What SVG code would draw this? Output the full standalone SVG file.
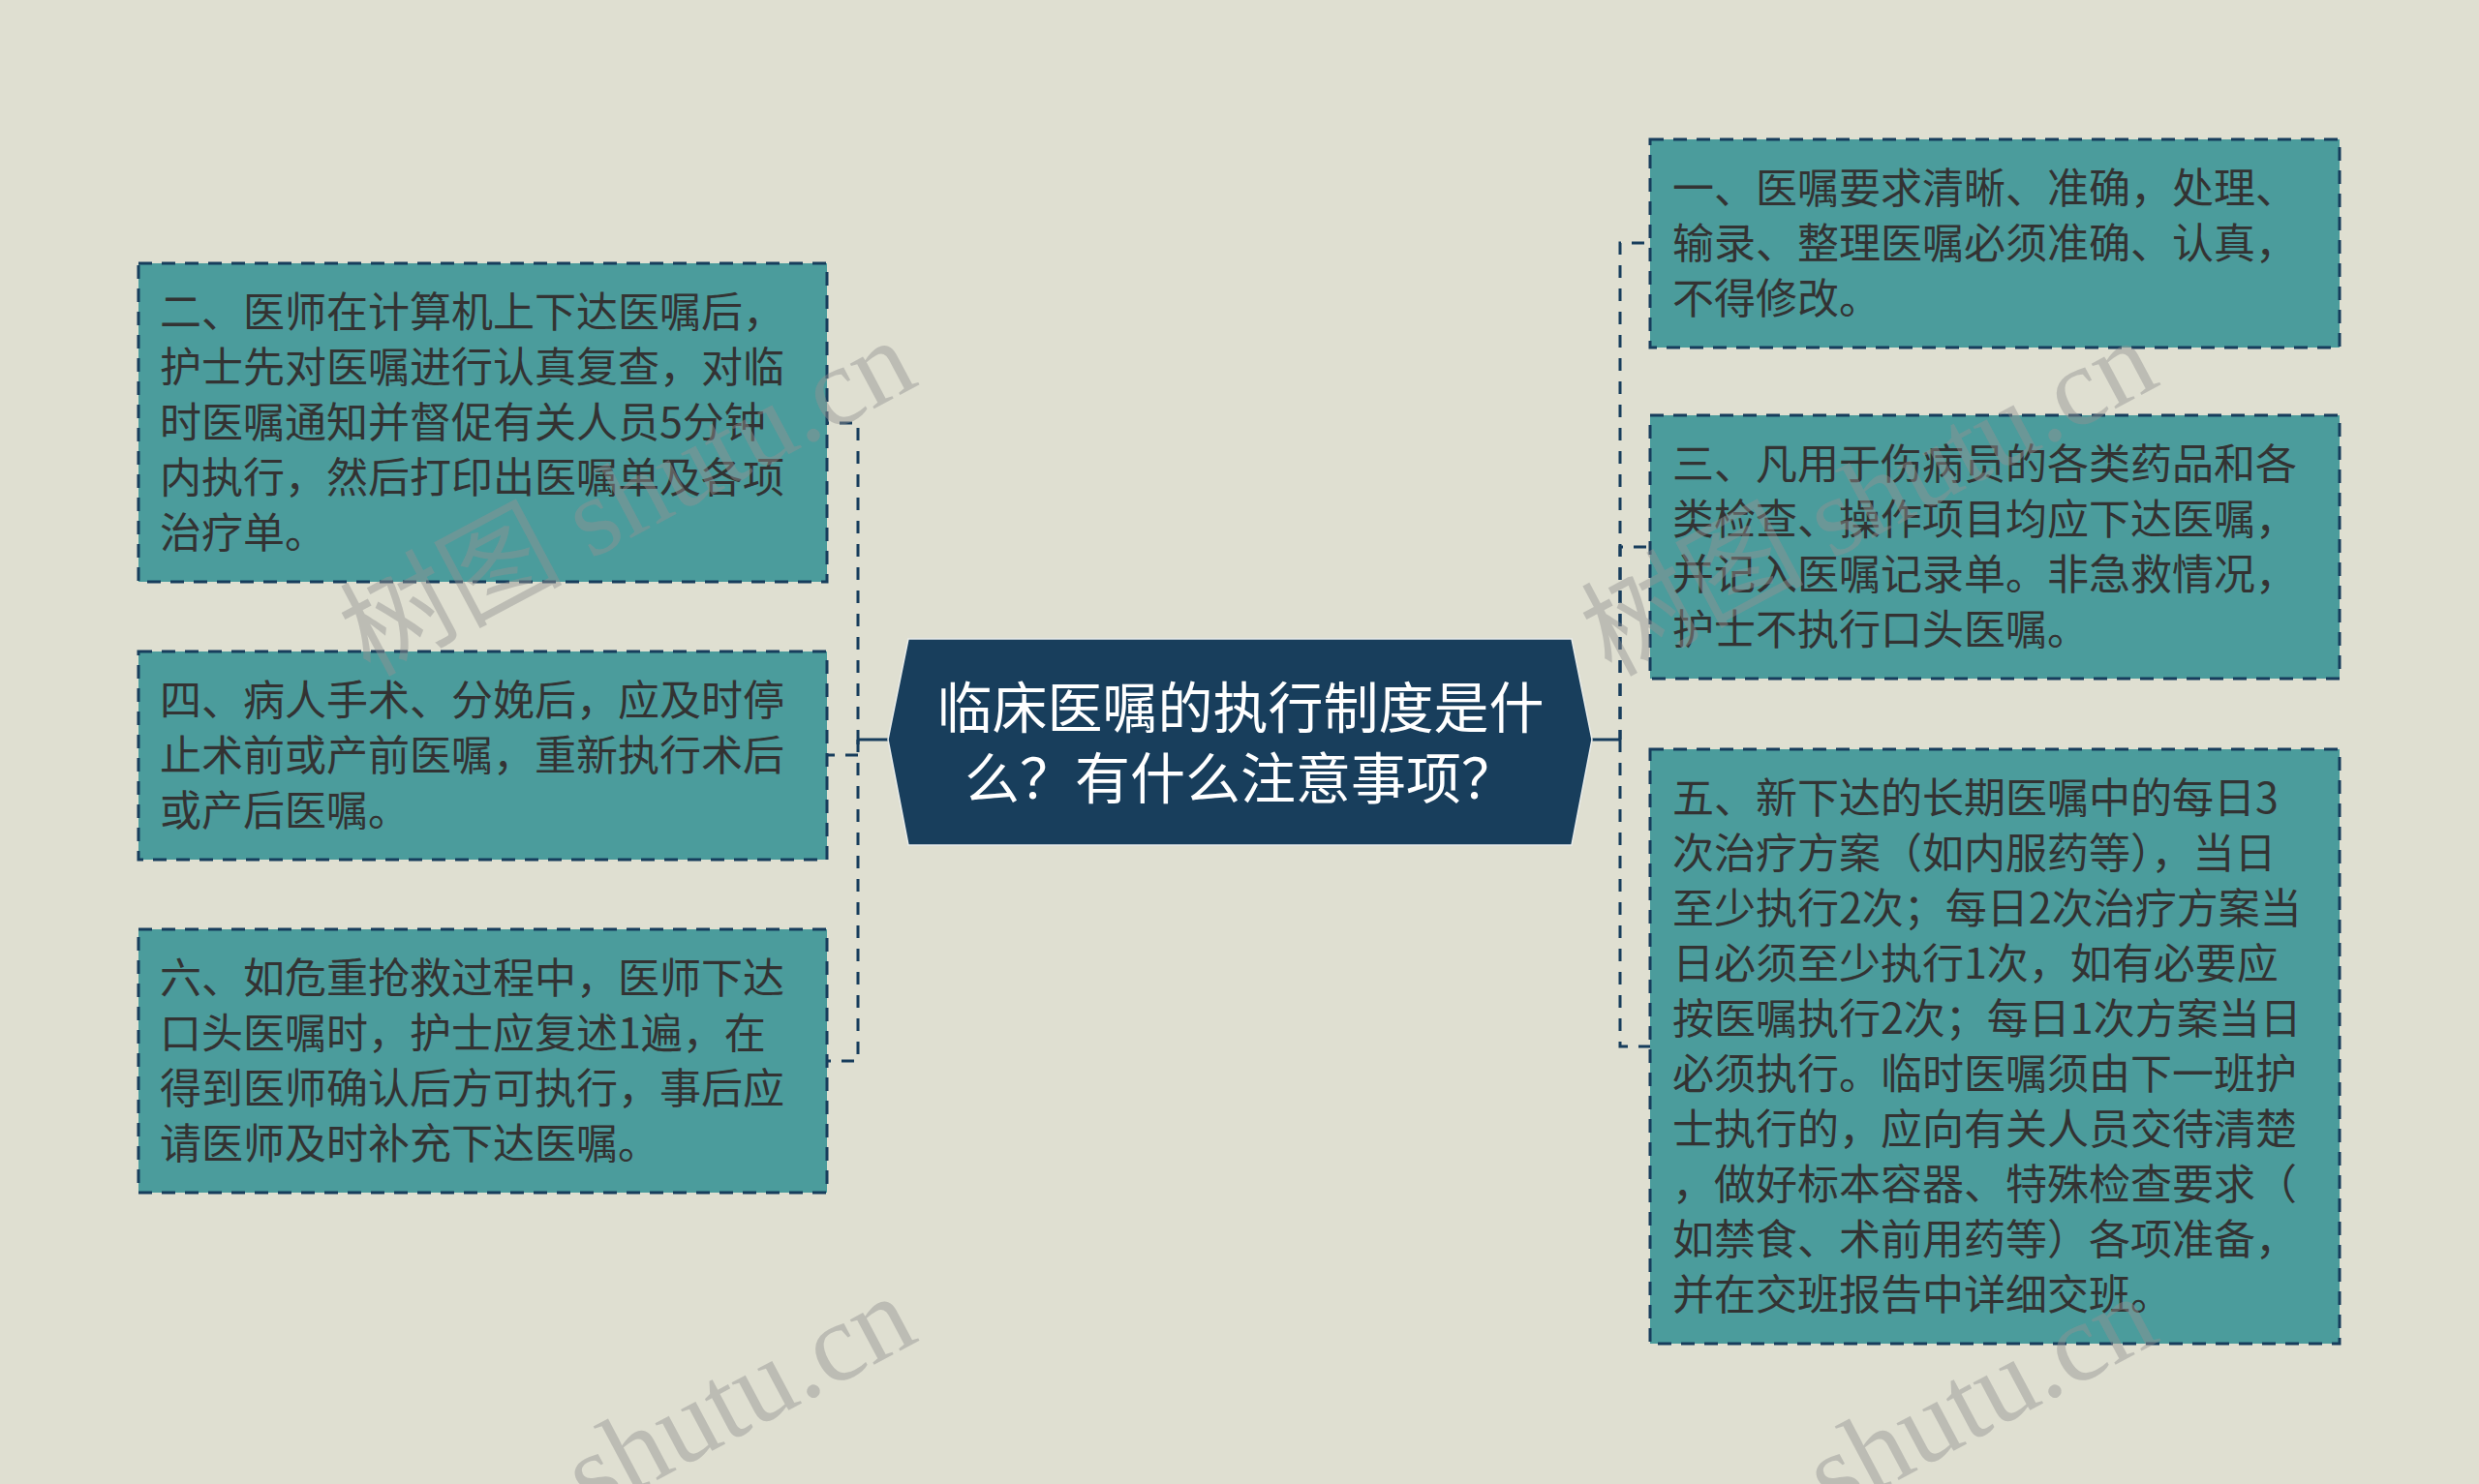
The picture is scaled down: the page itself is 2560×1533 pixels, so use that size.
<svg xmlns="http://www.w3.org/2000/svg" width="2560" height="1533" viewBox="0 0 2560 1533">
<style>
.bg{fill:#dfdfd1}
.box{fill:#4b9c9c;stroke:#173d5c;stroke-width:3;stroke-dasharray:14 10}
.txt{font-family:"Noto Sans CJK SC","Noto Sans",sans-serif;font-size:43px;fill:#333333}
.title{font-family:"Noto Sans CJK SC","Noto Sans",sans-serif;font-size:57px;fill:#ffffff;text-anchor:middle}
.conn{fill:none;stroke:#173d5c;stroke-width:3}
.dash{stroke-dasharray:13 11}
.wm{font-family:"Liberation Serif","Noto Sans CJK SC",serif;font-size:115px;fill:#939393;opacity:0.45;dominant-baseline:central}
</style>
<rect class="bg" x="0" y="0" width="2560" height="1533"/>
<g id="connectors" class="conn">
<path d="M917 764H886"/>
<path class="dash" stroke-dashoffset="3" d="M886 764V437H854"/>
<path class="dash" stroke-dashoffset="8" d="M886 764V780H854"/>
<path class="dash" d="M886 764V1096H854"/>
<path d="M1644 764H1673"/>
<path class="dash" stroke-dashoffset="3" d="M1673 764V251H1704"/>
<path class="dash" stroke-dashoffset="3" d="M1673 764V565H1704"/>
<path class="dash" d="M1673 764V1081H1704"/>
</g>
<g id="root">
<polygon points="917,764 938,660 1623,660 1644,764 1623,873 938,873" fill="#183e5c" stroke="#e9ecea" stroke-width="1.5"/>
<text class="title"><tspan x="1281" y="752">临床医嘱的执行制度是什</tspan><tspan x="1281" y="825">么？有什么注意事项？</tspan></text>
</g>
<g id="node-1">
<rect class="box" x="1704" y="144" width="712" height="215"/>
<text class="txt" x="1727" y="210">一、医嘱要求清晰、准确，处理、</text>
<text class="txt" x="1727" y="267">输录、整理医嘱必须准确、认真，</text>
<text class="txt" x="1727" y="324">不得修改。</text>
</g>
<g id="node-3">
<rect class="box" x="1704" y="429" width="712" height="272"/>
<text class="txt" x="1727" y="495">三、凡用于伤病员的各类药品和各</text>
<text class="txt" x="1727" y="552">类检查、操作项目均应下达医嘱，</text>
<text class="txt" x="1727" y="609">并记入医嘱记录单。非急救情况，</text>
<text class="txt" x="1727" y="666">护士不执行口头医嘱。</text>
</g>
<g id="node-5">
<rect class="box" x="1704" y="774" width="712" height="614"/>
<text class="txt" x="1727" y="840">五、新下达的长期医嘱中的每日3</text>
<text class="txt" x="1727" y="897">次治疗方案（如内服药等），当日</text>
<text class="txt" x="1727" y="954">至少执行2次；每日2次治疗方案当</text>
<text class="txt" x="1727" y="1011">日必须至少执行1次，如有必要应</text>
<text class="txt" x="1727" y="1068">按医嘱执行2次；每日1次方案当日</text>
<text class="txt" x="1727" y="1125">必须执行。临时医嘱须由下一班护</text>
<text class="txt" x="1727" y="1182">士执行的，应向有关人员交待清楚</text>
<text class="txt" x="1727" y="1239">，做好标本容器、特殊检查要求（</text>
<text class="txt" x="1727" y="1296">如禁食、术前用药等）各项准备，</text>
<text class="txt" x="1727" y="1353">并在交班报告中详细交班。</text>
</g>
<g id="node-2">
<rect class="box" x="143" y="272" width="711" height="329"/>
<text class="txt" x="165" y="338">二、医师在计算机上下达医嘱后，</text>
<text class="txt" x="165" y="395">护士先对医嘱进行认真复查，对临</text>
<text class="txt" x="165" y="452">时医嘱通知并督促有关人员5分钟</text>
<text class="txt" x="165" y="509">内执行，然后打印出医嘱单及各项</text>
<text class="txt" x="165" y="566">治疗单。</text>
</g>
<g id="node-4">
<rect class="box" x="143" y="673" width="711" height="215"/>
<text class="txt" x="165" y="739">四、病人手术、分娩后，应及时停</text>
<text class="txt" x="165" y="796">止术前或产前医嘱，重新执行术后</text>
<text class="txt" x="165" y="853">或产后医嘱。</text>
</g>
<g id="node-6">
<rect class="box" x="143" y="960" width="711" height="272"/>
<text class="txt" x="165" y="1026">六、如危重抢救过程中，医师下达</text>
<text class="txt" x="165" y="1083">口头医嘱时，护士应复述1遍，在</text>
<text class="txt" x="165" y="1140">得到医师确认后方可执行，事后应</text>
<text class="txt" x="165" y="1197">请医师及时补充下达医嘱。</text>
</g>
<g id="watermark">
<text class="wm" text-anchor="middle" transform="translate(648 514) rotate(-28)">树图 shutu.cn</text>
<text class="wm" text-anchor="middle" transform="translate(1930 514) rotate(-28)">树图 shutu.cn</text>
<text class="wm" text-anchor="end" transform="translate(933 1350) rotate(-28)">shutu.cn</text>
<text class="wm" text-anchor="end" transform="translate(2215 1350) rotate(-28)">shutu.cn</text>
</g>
</svg>
